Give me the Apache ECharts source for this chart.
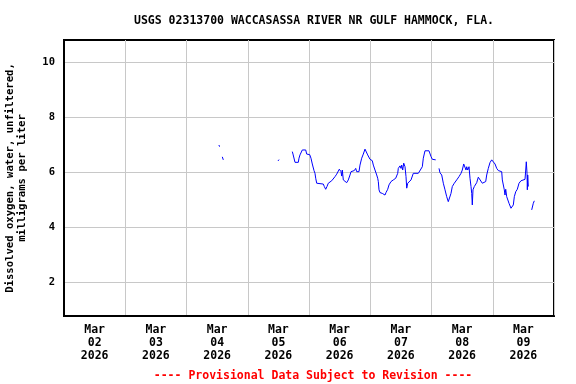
<!DOCTYPE html>
<html>
<head>
<meta charset="utf-8">
<script src="https://cdn.jsdelivr.net/npm/echarts@6/dist/echarts.min.js"></script>
<style>html,body{margin:0;padding:0;background:#fff}#c{width:576px;height:384px}</style>
</head>
<body>
<div id="c"></div>
<script>
// Hours since 2026-03-02 00:00 (null = gap in record)
const hours = [
  60.70, 60.95, null,
  62.03, 62.42, null,
  83.85, 84.25, null,
  89.46, 89.73, 90.52, 91.81, 92.08, 92.47, 93.38, 94.71, 95.10, 95.73, 96.27, 96.78, 97.29, 97.96, 98.35, 98.63, 99.02,
  101.60, 102.00, 102.54, 103.05, 103.56, 104.90, 105.52, 106.19, 106.85, 107.48, 107.87, 108.54, 108.81, 109.05, 109.44,
  110.11, 110.77, 111.40, 112.07, 112.46, 113.75, 114.30, 114.69, 115.59, 115.98, 116.65, 117.28, 117.94, 118.34, 119.00,
  119.90, 120.80, 121.20, 121.86, 122.53, 122.92, 123.16, 123.43, 123.82, 124.72, 125.78, 126.17, 126.84, 127.35, 128.13,
  129.03, 129.97, 130.76, 130.99, 131.66, 132.05, 132.32, 132.72, 133.11, 133.62, 134.01, 134.29, 134.68, 135.18, 135.97,
  136.87, 138.83, 139.49, 140.40, 140.79, 141.45, 142.12, 143.02, 143.81, 144.32, 145.10, 145.65, null,
  146.94, 147.33, 148.00, 148.63, 149.29, 149.96, 150.58, 151.25, 151.64, 152.15, 152.93, 153.87, 154.78, 155.56, 156.07,
  156.62, 157.13, 157.52, 157.80, 158.19, 158.70, 159.09, 159.48, 159.76, 159.99, 160.26, 160.77, 161.71, 162.34, 163.00,
  163.91, 164.69, 165.24, 165.63, 166.26, 166.92, 167.59, 168.22, 168.89, 169.55, 170.18, 171.51, 171.75, 172.53, 172.80,
  173.08, 173.47, 173.86, 174.37, 175.15, 175.66, 176.06, 176.45, 177.00, 177.63, 178.29, 179.08, 179.58, 180.64, 180.92,
  181.15, 181.43, 181.55, 181.70, 181.94, null,
  183.26, 183.89, 184.28
];
// Dissolved oxygen, mg/L
const dissolvedOxygen = [
  6.98, 6.92, null,
  6.55, 6.44, null,
  6.40, 6.45, null,
  6.74, 6.65, 6.35, 6.35, 6.50, 6.62, 6.80, 6.80, 6.65, 6.58, 6.63, 6.50, 6.29, 6.05, 5.95, 5.77, 5.59,
  5.56, 5.47, 5.37, 5.47, 5.59, 5.68, 5.73, 5.83, 5.92, 5.99, 6.10, 6.01, 5.85, 6.07, 5.71,
  5.73, 5.61, 5.71, 5.89, 6.01, 6.05, 6.13, 6.01, 6.01, 6.25, 6.50, 6.65, 6.83, 6.77, 6.62,
  6.46, 6.41, 6.25, 6.07, 5.89, 5.77, 5.65, 5.35, 5.25, 5.22, 5.16, 5.25, 5.37, 5.53, 5.65,
  5.71, 5.77, 5.95, 6.13, 6.22, 6.13, 6.25, 6.07, 6.32, 6.19, 5.83, 5.41, 5.59, 5.59, 5.71,
  5.95, 5.95, 6.01, 6.19, 6.50, 6.77, 6.83, 6.77, 6.56, 6.46, 6.41, 6.44, null,
  6.13, 5.97, 5.89, 5.59, 5.35, 5.10, 4.92, 4.98, 5.22, 5.47, 5.59, 5.71, 5.83, 5.95, 6.07,
  6.29, 6.25, 6.07, 6.19, 6.07, 6.19, 5.77, 5.47, 5.22, 4.80, 5.35, 5.47, 5.61, 5.81, 5.85,
  5.59, 5.59, 5.65, 5.89, 6.13, 6.34, 6.44, 6.41, 6.29, 6.13, 6.05, 6.01, 5.71, 5.35, 5.16,
  5.37, 5.10, 5.04, 4.86, 4.68, 4.62, 4.80, 5.10, 5.28, 5.37, 5.59, 5.68, 5.73, 5.73, 6.07,
  6.37, 5.95, 5.35, 5.89, 5.47, null,
  4.62, 4.86, 4.95
];
const dayGridHours = [0, 24, 48, 72, 96, 120, 144, 168, 192];
const dayLabelHours = [12, 36, 60, 84, 108, 132, 156, 180];
const dayLabels = ['Mar\n02\n2026', 'Mar\n03\n2026', 'Mar\n04\n2026', 'Mar\n05\n2026',
                   'Mar\n06\n2026', 'Mar\n07\n2026', 'Mar\n08\n2026', 'Mar\n09\n2026'];
const yTicks = [2, 4, 6, 8, 10];

const FONT = '"DejaVu Sans Mono", monospace';
const chart = echarts.init(document.getElementById('c'), null, {renderer: 'canvas'});
const seriesData = hours.map((h, i) => (h === null ? '-' : [h, dissolvedOxygen[i]]));

chart.setOption({
  animation: false,
  backgroundColor: '#ffffff',
  title: [{
    text: 'USGS 02313700 WACCASASSA RIVER NR GULF HAMMOCK, FLA.',
    left: 309, top: 10, textAlign: 'center',
    textStyle: {fontFamily: FONT, fontWeight: 'bold', fontSize: 11.5, color: '#000'}
  }, {
    text: '---- Provisional Data Subject to Revision ----',
    left: 308, top: 365, textAlign: 'center',
    textStyle: {fontFamily: FONT, fontWeight: 'bold', fontSize: 11.5, color: '#ff0000'}
  }],
  grid: {left: 64, right: 22, top: 40, bottom: 68, show: true, borderColor: '#000', borderWidth: 2,
         containLabel: false, outerBoundsMode: 'none'},
  xAxis: {
    type: 'value', min: 0, max: 192, interval: 24,
    axisLine: {show: true, lineStyle: {color: '#000', width: 2}},
    axisTick: {show: false, customValues: dayGridHours},
    splitLine: {show: true, lineStyle: {color: '#c8c8c8', width: 1}},
    axisLabel: {
      customValues: dayLabelHours,
      formatter: v => dayLabels[dayLabelHours.indexOf(v)] || '',
      fontFamily: FONT, fontWeight: 'bold', fontSize: 11.5, color: '#000', lineHeight: 13, margin: 8
    }
  },
  yAxis: {
    type: 'value', min: 0.76, max: 10.8,
    name: 'Dissolved oxygen, water, unfiltered,\nmilligrams per liter',
    nameLocation: 'middle', nameRotate: 90, nameGap: 36,
    nameTextStyle: {fontFamily: FONT, fontWeight: 'bold', fontSize: 10.6, color: '#000', lineHeight: 12},
    axisLine: {show: true, lineStyle: {color: '#000', width: 2}},
    axisTick: {show: false, customValues: yTicks},
    splitLine: {show: true, lineStyle: {color: '#c8c8c8', width: 1}},
    axisLabel: {
      customValues: yTicks,
      fontFamily: FONT, fontWeight: 'bold', fontSize: 10.5, color: '#000', margin: 9
    }
  },
  series: [{
    type: 'line',
    data: seriesData,
    showSymbol: false,
    connectNulls: false,
    lineStyle: {color: '#0000ff', width: 1},
    itemStyle: {color: '#0000ff'}
  }]
});
</script>
</body>
</html>
